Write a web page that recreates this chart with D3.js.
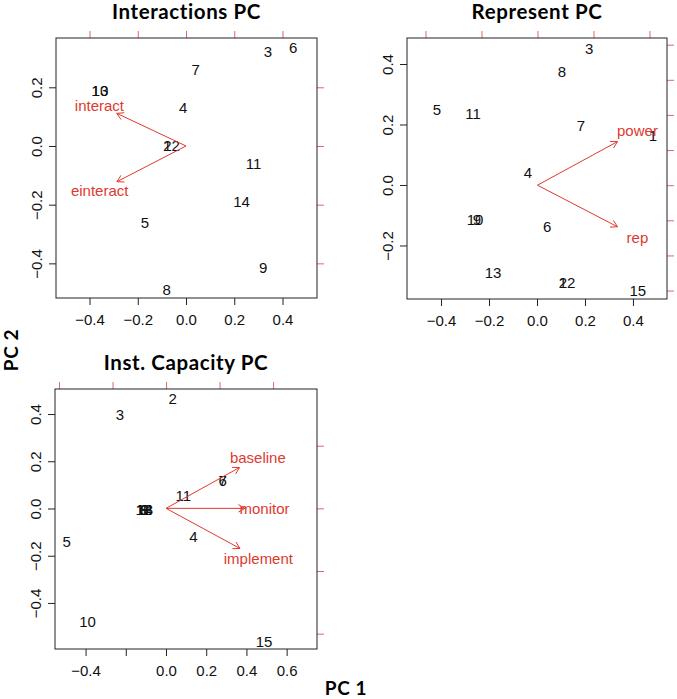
<!DOCTYPE html>
<html><head><meta charset="utf-8">
<script src="https://cdn.jsdelivr.net/npm/d3@7"></script>
<style>body{margin:0;background:#fff}svg{display:block}</style>
</head><body>
<script>
// ---------------- data ----------------
const titles = ["Interactions PC", "Represent PC", "Inst. Capacity PC"];

// Interactions PC: observation scores
const intLabels = ["3", "6", "7", "10", "13", "4", "12", "2", "11", "14", "5", "9", "8"];
const intPC1 = [0.34, 0.444, 0.04, -0.357, -0.357, -0.012, -0.06, -0.077, 0.28, 0.23, -0.17, 0.32, -0.08];
const intPC2 = [0.32, 0.334, 0.26, 0.19, 0.19, 0.13, 0.0, 0.0, -0.06, -0.19, -0.26, -0.415, -0.49];
// Interactions PC: variable loadings
const intVars = ["interact", "einteract"];
const intVarPC1 = [-0.359, -0.358];
const intVarPC2 = [0.139, -0.152];

// Represent PC
const repLabels = ["3", "8", "5", "11", "7", "1", "4", "10", "9", "6", "13", "12", "2", "15"];
const repPC1 = [0.217, 0.104, -0.417, -0.267, 0.183, 0.483, -0.038, -0.258, -0.25, 0.042, -0.183, 0.125, 0.108, 0.42];
const repPC2 = [0.45, 0.374, 0.248, 0.235, 0.195, 0.162, 0.04, -0.113, -0.113, -0.139, -0.291, -0.324, -0.324, -0.348];
const repVars = ["power", "rep"];
const repVarPC1 = [0.357, 0.357];
const repVarPC2 = [0.155, -0.148];

// Inst. Capacity PC
const capLabels = ["2", "3", "6", "7", "11", "1", "8", "9", "12", "13", "14", "5", "4", "10", "15"];
const capPC1 = [0.033, -0.229, 0.282, 0.282, 0.086, -0.107, -0.107, -0.107, -0.11, -0.105, -0.108, -0.494, 0.136, -0.39, 0.488];
const capPC2 = [0.465, 0.398, 0.116, 0.116, 0.055, -0.005, -0.005, -0.005, -0.005, -0.005, -0.005, -0.139, -0.119, -0.477, -0.562];
const capVars = ["baseline", "monitor", "implement"];
const capVarPC1 = [0.343, 0.368, 0.345];
const capVarPC2 = [0.163, 0.0, -0.16];

// tick values / labels
const xTicksA = [-0.4, -0.2, 0, 0.2, 0.4];
const xTickLabelsA = ["\u22120.4", "\u22120.2", "0.0", "0.2", "0.4"];
const xTicksC = [-0.4, -0.2, 0, 0.2, 0.4, 0.6];
const xTickLabelsC = ["\u22120.4", "", "0.0", "0.2", "0.4", "0.6"];
const yTicksInt = [-0.4, -0.2, 0, 0.2];
const yTickLabelsInt = ["\u22120.4", "\u22120.2", "0.0", "0.2"];
const yTicksRep = [-0.2, 0, 0.2, 0.4];
const yTickLabelsRep = ["\u22120.2", "0.0", "0.2", "0.4"];
const yTicksCap = [-0.4, -0.2, 0, 0.2, 0.4];
const yTickLabelsCap = ["\u22120.4", "\u22120.2", "0.0", "0.2", "0.4"];
// secondary (loading) axis ticks, unlabeled
const topTicksInt = [-0.4, -0.2, 0, 0.2, 0.4];
const rightTicksInt = [-0.4, -0.2, 0, 0.2];
const topTicksRep = [-0.4, -0.2, 0, 0.2, 0.4];
const rightTicksRep = [-0.3, -0.2, -0.1, 0, 0.1, 0.2, 0.3, 0.4];
const topTicksCap = [-0.4, -0.2, 0, 0.2, 0.4];
const rightTicksCap = [-0.4, -0.2, 0, 0.2];

const axisTitleX = "PC 1";
const axisTitleY = "PC 2";

// ---------------- layout ----------------
const W = 677, H = 699;
const RED = "#dd3a30", RED_TICK = "#e06a66", BOX = "#222";
const NUM_FONT = "'Liberation Sans', Arial, Helvetica, sans-serif";
const TITLE_FONT = "Lato, 'Open Sans', sans-serif";

const panels = [
  { title: titles[0], labels: intLabels, pc1: intPC1, pc2: intPC2,
    vars: intVars, v1: intVarPC1, v2: intVarPC2,
    xTicks: xTicksA, xTickLabels: xTickLabelsA, yTicks: yTicksInt, yTickLabels: yTickLabelsInt,
    topTicks: topTicksInt, rightTicks: rightTicksInt,
    box: { l: 56, r: 317, t: 38, b: 298 },
    xDom: [-0.539, 0.543], yDom: [-0.518, 0.368],
    x2Dom: [-0.539, 0.543], y2Dom: [-0.518, 0.368] },
  { title: titles[1], labels: repLabels, pc1: repPC1, pc2: repPC2,
    vars: repVars, v1: repVarPC1, v2: repVarPC2,
    xTicks: xTicksA, xTickLabels: xTickLabelsA, yTicks: yTicksRep, yTickLabels: yTickLabelsRep,
    topTicks: topTicksRep, rightTicks: rightTicksRep,
    box: { l: 407, r: 667, t: 38, b: 299 },
    xDom: [-0.542, 0.542], yDom: [-0.377, 0.486],
    x2Dom: [-0.466, 0.4625], y2Dom: [-0.324, 0.419] },
  { title: titles[2], labels: capLabels, pc1: capPC1, pc2: capPC2,
    vars: capVars, v1: capVarPC1, v2: capVarPC2,
    xTicks: xTicksC, xTickLabels: xTickLabelsC, yTicks: yTicksCap, yTickLabels: yTickLabelsCap,
    topTicks: topTicksCap, rightTicks: rightTicksCap,
    box: { l: 55, r: 317, t: 389, b: 649 },
    xDom: [-0.552, 0.751], yDom: [-0.595, 0.506],
    x2Dom: [-0.415, 0.564], y2Dom: [-0.449, 0.381] }
];

const svg = d3.select("body").append("svg").attr("width", W).attr("height", H);

panels.forEach(p => {
  const b = p.box;
  const x = d3.scaleLinear().domain(p.xDom).range([b.l, b.r]);
  const y = d3.scaleLinear().domain(p.yDom).range([b.b, b.t]);
  const x2 = d3.scaleLinear().domain(p.x2Dom).range([b.l, b.r]);
  const y2 = d3.scaleLinear().domain(p.y2Dom).range([b.b, b.t]);
  const g = svg.append("g");

  // bottom axis
  const gx = g.append("g").attr("transform", `translate(0,${b.b})`)
    .call(d3.axisBottom(x).tickValues(p.xTicks).tickSize(7)
      .tickFormat((d, i) => p.xTickLabels[i]));
  gx.select(".domain").remove();
  gx.selectAll("line").attr("stroke", BOX);
  gx.selectAll("text").attr("y", 27).attr("dy", 0)
    .style("font-family", NUM_FONT).style("font-size", "15px").attr("fill", "#111");

  // left axis
  const gy = g.append("g").attr("transform", `translate(${b.l},0)`)
    .call(d3.axisLeft(y).tickValues(p.yTicks).tickSize(7)
      .tickFormat((d, i) => p.yTickLabels[i]));
  gy.select(".domain").remove();
  gy.selectAll("line").attr("stroke", BOX);
  gy.selectAll("text").attr("x", 0).attr("y", -14).attr("dy", 0)
    .attr("text-anchor", "middle").attr("transform", "rotate(-90)")
    .style("font-family", NUM_FONT).style("font-size", "15px").attr("fill", "#111");

  // top & right red axes (loadings scale)
  const gt = g.append("g").attr("transform", `translate(0,${b.t})`)
    .call(d3.axisTop(x2).tickValues(p.topTicks).tickSize(7).tickFormat(""));
  gt.select(".domain").remove();
  gt.selectAll("line").attr("stroke", RED_TICK);
  const gr = g.append("g").attr("transform", `translate(${b.r},0)`)
    .call(d3.axisRight(y2).tickValues(p.rightTicks).tickSize(7).tickFormat(""));
  gr.select(".domain").remove();
  gr.selectAll("line").attr("stroke", RED_TICK);

  // box
  g.append("rect").attr("x", b.l).attr("y", b.t)
    .attr("width", b.r - b.l).attr("height", b.b - b.t)
    .attr("fill", "none").attr("stroke", BOX).attr("stroke-width", 1);

  // title
  g.append("text").attr("x", (b.l + b.r) / 2).attr("y", b.t - 19.5)
    .attr("text-anchor", "middle").style("font-family", TITLE_FONT)
    .style("font-weight", "bold").style("font-size", "20.5px")
    .style("letter-spacing", "0.6px").attr("fill", "#000")
    .text(p.title);

  // observation labels
  g.selectAll("text.obs").data(p.labels).enter().append("text").attr("class", "obs")
    .attr("x", (d, i) => x(p.pc1[i])).attr("y", (d, i) => y(p.pc2[i]))
    .attr("dy", "0.36em").attr("text-anchor", "middle")
    .style("font-family", NUM_FONT).style("font-size", "15px").attr("fill", "#111")
    .text(d => d);

  // arrows (R biplot: arrow to 0.8 * loading, label at loading)
  const x0 = x2(0), y0 = y2(0);
  p.vars.forEach((v, i) => {
    const tx = x2(p.v1[i] * 0.8), ty = y2(p.v2[i] * 0.8);
    g.append("line").attr("x1", x0).attr("y1", y0).attr("x2", tx).attr("y2", ty)
      .attr("stroke", RED).attr("stroke-width", 1);
    const ang = Math.atan2(ty - y0, tx - x0);
    const L = 7.5, a = Math.PI / 6;
    [ang + Math.PI - a, ang + Math.PI + a].forEach(t => {
      g.append("line").attr("x1", tx).attr("y1", ty)
        .attr("x2", tx + L * Math.cos(t)).attr("y2", ty + L * Math.sin(t))
        .attr("stroke", RED).attr("stroke-width", 1);
    });
    g.append("text").attr("x", x2(p.v1[i])).attr("y", y2(p.v2[i]))
      .attr("dy", "0.36em").attr("text-anchor", "middle")
      .style("font-family", NUM_FONT).style("font-size", "15px").attr("fill", RED)
      .text(v);
  });
});

// outer axis titles
svg.append("text").attr("x", 346).attr("y", 695).attr("text-anchor", "middle")
  .style("font-family", TITLE_FONT).style("font-weight", "bold").style("font-size", "19px")
  .style("letter-spacing", "0.6px")
  .text(axisTitleX);
svg.append("text").attr("transform", "translate(18,350) rotate(-90)").attr("text-anchor", "middle")
  .style("font-family", TITLE_FONT).style("font-weight", "bold").style("font-size", "19px")
  .style("letter-spacing", "0.6px")
  .text(axisTitleY);
</script>
</body></html>
